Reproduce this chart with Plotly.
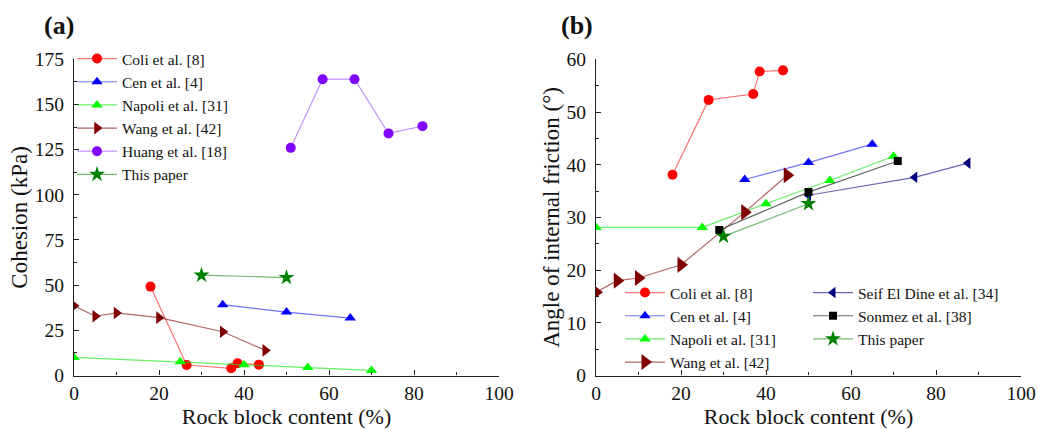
import plotly.graph_objects as go

# ---------------- data: cohesion vs rock block content ----------------
coli_c_x = [18, 26.5, 37, 38.5, 43.5]
coli_c_y = [49.2, 5.8, 4.0, 6.8, 6.0]
cen_c_x = [35, 50, 65]
cen_c_y = [39.2, 35.1, 31.8]
napoli_c_x = [0, 25, 40, 55, 70]
napoli_c_y = [10, 7.6, 6.0, 4.4, 2.8]
wang_c_x = [0, 5, 10, 20, 35, 45]
wang_c_y = [38.6, 32.8, 34.6, 32.0, 24.2, 13.9]
huang_c_x = [51, 58.5, 66, 74, 82]
huang_c_y = [126, 164, 164, 134, 138]
this_c_x = [30, 50]
this_c_y = [55.5, 54.2]

# ---------------- data: friction angle vs rock block content ----------------
coli_f_x = [18, 26.5, 37, 38.5, 44]
coli_f_y = [38.1, 52.3, 53.4, 57.7, 57.9]
cen_f_x = [35, 50, 65]
cen_f_y = [37.2, 40.4, 43.9]
napoli_f_x = [0, 25, 40, 55, 70]
napoli_f_y = [28.1, 28.1, 32.6, 37.0, 41.6]
wang_f_x = [0, 5, 10, 20, 35, 45]
wang_f_y = [15.8, 18.0, 18.5, 21.0, 31.0, 38.0]
seif_f_x = [50, 75, 87.5]
seif_f_y = [34.2, 37.6, 40.3]
sonmez_f_x = [29, 50, 71]
sonmez_f_y = [27.6, 34.8, 40.7]
this_f_x = [30, 50]
this_f_y = [26.4, 32.6]

FONT = '"Liberation Serif", "Times New Roman", Times, serif'

def series(x, y, name, color, line_color, symbol, size, xa, ya, legend, show=True):
    return go.Scatter(
        x=x, y=y, name=name, mode="lines+markers",
        line=dict(color=line_color, width=1.2),
        marker=dict(color=color, symbol=symbol, size=size, line=dict(width=0)),
        xaxis=xa, yaxis=ya, legend=legend, showlegend=show,
    )

fig = go.Figure()

# panel (a)
fig.add_trace(series(coli_c_x, coli_c_y, "Coli et al. [8]", "#FF0000", "rgba(255,0,0,0.55)", "circle", 10, "x", "y", "legend"))
fig.add_trace(series(cen_c_x, cen_c_y, "Cen et al. [4]", "#0000FF", "rgba(0,0,255,0.55)", "triangle-up", 10, "x", "y", "legend"))
fig.add_trace(series(napoli_c_x, napoli_c_y, "Napoli et al. [31]", "#00FF00", "rgba(0,230,0,0.6)", "triangle-up", 10, "x", "y", "legend"))
fig.add_trace(series(wang_c_x, wang_c_y, "Wang et al. [42]", "#800000", "rgba(128,0,0,0.6)", "triangle-right", 11, "x", "y", "legend"))
fig.add_trace(series(huang_c_x, huang_c_y, "Huang et al. [18]", "#8000FF", "rgba(150,80,255,0.6)", "circle", 10, "x", "y", "legend"))
fig.add_trace(series(this_c_x, this_c_y, "This paper", "#008000", "rgba(0,128,0,0.55)", "star", 12, "x", "y", "legend"))

# panel (b)
fig.add_trace(series(coli_f_x, coli_f_y, "Coli et al. [8]", "#FF0000", "rgba(255,0,0,0.55)", "circle", 10, "x2", "y2", "legend2"))
fig.add_trace(series(cen_f_x, cen_f_y, "Cen et al. [4]", "#0000FF", "rgba(0,0,255,0.55)", "triangle-up", 10, "x2", "y2", "legend2"))
fig.add_trace(series(napoli_f_x, napoli_f_y, "Napoli et al. [31]", "#00FF00", "rgba(0,230,0,0.6)", "triangle-up", 10, "x2", "y2", "legend2"))
fig.add_trace(series(wang_f_x, wang_f_y, "Wang et al. [42]", "#800000", "rgba(128,0,0,0.6)", "triangle-right", 14, "x2", "y2", "legend2"))
fig.add_trace(series(seif_f_x, seif_f_y, "Seif El Dine et al. [34]", "#000080", "rgba(0,0,128,0.6)", "triangle-left", 10, "x2", "y2", "legend3"))
fig.add_trace(series(sonmez_f_x, sonmez_f_y, "Sonmez et al. [38]", "#000000", "rgba(0,0,0,0.6)", "square", 8, "x2", "y2", "legend3"))
fig.add_trace(series(this_f_x, this_f_y, "This paper", "#008000", "rgba(0,128,0,0.55)", "star", 12, "x2", "y2", "legend3"))

W, H = 1037, 429
dom_y = [1 - 375.5 / H, 1 - 59.3 / H]

axis_common = dict(
    showline=True, linecolor="#222", linewidth=1.3, mirror=False,
    ticks="inside", ticklen=5, tickwidth=1.2, tickcolor="#222",
    showgrid=False, zeroline=False, automargin=True,
    tickfont=dict(family=FONT, size=19.5, color="#111"),
)
xaxis_common = dict(
    axis_common, range=[0, 100], dtick=20, tick0=0, ticklabelstandoff=0,
    minor=dict(ticks="inside", ticklen=3, dtick=10, tick0=0, tickcolor="#222", showgrid=False),
    title=dict(text="Rock block content (%)", font=dict(family=FONT, size=22, color="#111"), standoff=4),
)

LEG_FONT = dict(family=FONT, size=15.5, color="#111")

fig.update_layout(
    width=W, height=H, margin=dict(l=0, r=0, t=0, b=0, autoexpand=False),
    paper_bgcolor="white", plot_bgcolor="white",
    font=dict(family=FONT),
    xaxis=dict(xaxis_common, domain=[74 / W, 499 / W], anchor="y"),
    yaxis=dict(axis_common, domain=dom_y, anchor="x", range=[0, 175], dtick=25, tick0=0,
               ticklabelstandoff=5,
               minor=dict(ticks="inside", ticklen=3, dtick=12.5, tick0=0, tickcolor="#222", showgrid=False),
               title=dict(text="Cohesion (kPa)", font=dict(family=FONT, size=23, color="#111"), standoff=0)),
    xaxis2=dict(xaxis_common, domain=[596 / W, 1021 / W], anchor="y2"),
    yaxis2=dict(axis_common, domain=dom_y, anchor="x2", range=[0, 60], dtick=10, tick0=0,
                ticklabelstandoff=5,
                minor=dict(ticks="inside", ticklen=3, dtick=5, tick0=0, tickcolor="#222", showgrid=False),
                title=dict(text="Angle of internal friction (°)", font=dict(family=FONT, size=23, color="#111"), standoff=0)),
    legend=dict(x=72 / W, y=1 - 42 / H, xanchor="left", yanchor="top",
                bgcolor="rgba(0,0,0,0)", font=LEG_FONT, itemwidth=40, tracegroupgap=0),
    legend2=dict(x=620 / W, y=1 - 276 / H, xanchor="left", yanchor="top",
                 bgcolor="rgba(0,0,0,0)", font=LEG_FONT, itemwidth=40, tracegroupgap=0),
    legend3=dict(x=808 / W, y=1 - 276 / H, xanchor="left", yanchor="top",
                 bgcolor="rgba(0,0,0,0)", font=LEG_FONT, itemwidth=40, tracegroupgap=0),
    annotations=[
        dict(text="<b>(a)</b>", x=42 / W, y=1 - 26 / H, xref="paper", yref="paper",
             xanchor="left", yanchor="middle", showarrow=False,
             font=dict(family=FONT, size=26, color="#111")),
        dict(text="<b>(b)</b>", x=559 / W, y=1 - 26 / H, xref="paper", yref="paper",
             xanchor="left", yanchor="middle", showarrow=False,
             font=dict(family=FONT, size=26, color="#111")),
    ],
)

fig.write_html("out.html")
